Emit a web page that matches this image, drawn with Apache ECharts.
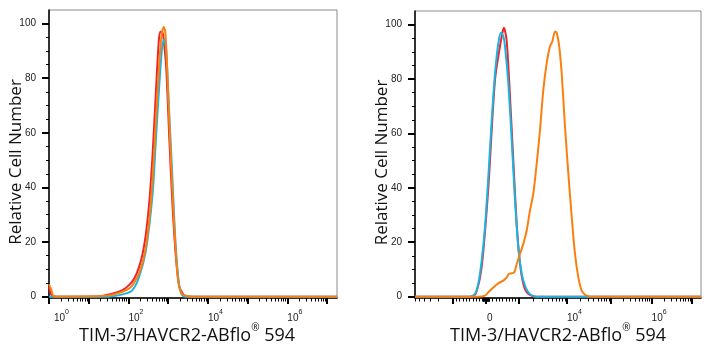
<!DOCTYPE html>
<html>
<head>
<meta charset="utf-8">
<script src="https://cdn.jsdelivr.net/npm/echarts@6/dist/echarts.min.js"></script>
<style>
html,body{margin:0;padding:0;background:#fff;}
#chart{width:710px;height:350px;}
</style>
</head>
<body>
<div id="chart"></div>
<script>
// ---------- DATA ----------
// Left panel: x in log10 units (decades), y = relative cell number
const leftRed = [[0,3.5],[0.08,0.3],[0.3,0],[1.2,0],[1.43,0.5],[1.85,2.4],[2.02,4.3],[2.15,6.7],[2.27,11],[2.36,16],[2.44,23],[2.53,35.5],[2.61,52.7],[2.69,74.7],[2.76,93],[2.80,97],[2.85,97],[2.88,95],[2.95,84],[3.03,57.5],[3.11,33],[3.20,13.5],[3.28,3.7],[3.37,1],[3.45,0],[7.25,0]];
const leftCyan = [[0,0],[1.5,0],[1.9,1],[2.10,2.4],[2.27,7.3],[2.44,17],[2.61,38],[2.69,57.5],[2.78,78.3],[2.85,91.8],[2.90,94.2],[2.95,90.6],[3.01,72],[3.10,45.3],[3.18,20.8],[3.27,4.9],[3.35,0.6],[3.45,0],[7.25,0]];
const leftOrange = [[0,4.5],[0.06,2.5],[0.13,0],[1.43,0.3],[2.02,3],[2.27,8.6],[2.44,18.4],[2.57,35.5],[2.65,54],[2.73,74.7],[2.80,90.6],[2.85,97.3],[2.89,98.8],[2.93,96.7],[2.99,78.3],[3.07,50],[3.16,24.5],[3.24,7.3],[3.33,1.2],[3.45,0.3],[3.62,0],[7.25,0]];

// Right panel: x in biexponential display units (0 = zero fluorescence), y = relative cell number
const rightRed = [[-1.775,0],[-0.4,0],[-0.26,1],[-0.108,11],[0.058,40],[0.225,79.7],[0.392,95.7],[0.45,98.8],[0.517,94],[0.6,73.5],[0.683,50],[0.767,26.8],[0.85,12],[0.933,4.6],[1.017,1.6],[1.143,0.3],[1.27,0],[5.375,0]];
const rightCyan = [[-1.775,0],[-0.4,0],[-0.275,1],[-0.193,4.7],[-0.108,13.3],[-0.025,25.6],[0.058,44],[0.143,65],[0.225,82],[0.308,93.2],[0.375,97],[0.433,95.7],[0.475,92],[0.558,78.5],[0.643,57.6],[0.725,35.4],[0.808,18.2],[0.893,8.4],[0.975,4],[1.058,1.6],[1.143,0.5],[1.27,0],[5.375,0]];
const rightOrange = [[-1.775,0],[-0.2,0],[-0.025,0.4],[0.058,1.6],[0.183,3.4],[0.308,4.9],[0.433,5.9],[0.518,7.1],[0.575,8.4],[0.643,8.6],[0.708,9],[0.768,12],[0.85,15.7],[0.933,19.4],[1.018,24.4],[1.1,31.7],[1.183,37.9],[1.268,49],[1.35,61.3],[1.433,76],[1.518,85.9],[1.6,92],[1.658,93.8],[1.725,97.5],[1.768,97],[1.825,92.6],[1.893,82],[1.975,62.5],[2.058,45.3],[2.143,29.3],[2.225,15.7],[2.308,7.1],[2.393,2.2],[2.475,0.7],[2.558,0.2],[2.643,0],[5.375,0]];

// Axis definitions
const yMajorTicks = [0, 20, 40, 60, 80, 100];
const yMinorTicks = [5, 10, 15, 25, 30, 35, 45, 50, 55, 65, 70, 75, 85, 90, 95];
const leftDecades = [0, 1, 2, 3, 4, 5, 6, 7];
const leftLabelDecades = [0, 2, 4, 6];
// biexponential axis: decade exponent -> display unit
const rightDecadeExp = [3, 4, 5, 6, 7];
const rightDecadePos = [0.825, 2.025, 3.125, 4.14, 5.15];
const rightMajorValues = [-1e3, 0, 1e3, 1e4, 1e5, 1e6, 1e7];
const rightLabelValues = [0, 1e4, 1e6];
const xTitle = 'TIM-3/HAVCR2-ABflo';
const yTitle = 'Relative Cell Number';

// ---------- SCALES ----------
const LEFT_MIN = 0, LEFT_MAX = 7.25;
const RIGHT_MIN = -1.775, RIGHT_MAX = 5.375;

function toDisplay(v) {
  const s = v < 0 ? -1 : 1;
  const a = Math.abs(v);
  if (a <= 1000) return s * rightDecadePos[0] * a / 1000;
  const e = Math.log10(a);
  let i = 0;
  while (i < rightDecadeExp.length - 2 && e > rightDecadeExp[i + 1]) i++;
  const e0 = rightDecadeExp[i], e1 = rightDecadeExp[i + 1];
  const p0 = rightDecadePos[i], p1 = rightDecadePos[i + 1];
  return s * (p0 + (e - e0) * (p1 - p0) / (e1 - e0));
}

const leftMinor = [];
for (let k = 0; k <= 7; k++) for (let m = 2; m <= 9; m++) {
  const t = k + Math.log10(m);
  if (t <= LEFT_MAX) leftMinor.push(t);
}
const rightMajor = rightMajorValues.map(toDisplay);
const rightMinor = [];
for (let k = 1; k <= 7; k++) for (let m = 1; m <= 9; m++) {
  const v = m * Math.pow(10, k);
  if (rightMajorValues.indexOf(v) >= 0) continue;
  [v, -v].forEach(function (w) {
    const t = toDisplay(w);
    if (t >= RIGHT_MIN && t <= RIGHT_MAX) rightMinor.push(t);
  });
}
const rightLabelPos = rightLabelValues.map(toDisplay);

// ---------- STYLE ----------
const RED = '#ec2528', CYAN = '#1ab4e4', ORANGE = '#f98010';
const labelFont = '"Liberation Sans", Arial, sans-serif';
const titleFont = '"Open Sans", "Noto Sans", sans-serif';

const xRich = {
  b: { fontSize: 10, lineHeight: 14, color: '#222', fontFamily: labelFont, verticalAlign: 'bottom' },
  p: { fontSize: 10, lineHeight: 14, color: '#222', fontFamily: labelFont, verticalAlign: 'bottom', padding: [0, 0, 0, 5] },
  s: { fontSize: 7, lineHeight: 8, color: '#222', fontFamily: labelFont, verticalAlign: 'top' },
  z: { fontSize: 10, lineHeight: 14, color: '#222', fontFamily: labelFont, verticalAlign: 'bottom', padding: [0, 0, 0, 1] }
};
const nameRich = {
  n: { fontSize: 18, lineHeight: 22, color: '#111', fontFamily: titleFont, verticalAlign: 'bottom' },
  r: { fontSize: 10, lineHeight: 12, color: '#111', fontFamily: titleFont, verticalAlign: 'top' }
};

function mainX(gridIndex, min, max, ticks, labels, fmt, namePad) {
  return {
    gridIndex: gridIndex, type: 'value', min: min, max: max, position: 'bottom',
    splitLine: { show: false },
    axisLine: { show: true, onZero: false, lineStyle: { color: '#000', width: 1.5 } },
    axisTick: { show: true, customValues: ticks, length: 6, lineStyle: { color: '#000', width: 2 } },
    axisLabel: { show: true, customValues: labels, formatter: fmt, margin: 11, align: 'left', rich: xRich, showMinLabel: true, showMaxLabel: true },
    name: '{n|' + xTitle + '}{r|®}{n| 594}',
    nameLocation: 'middle', nameGap: 25, nameMoveOverlap: false,
    nameTextStyle: { rich: nameRich, padding: namePad }
  };
}
function minorX(gridIndex, min, max, ticks) {
  return {
    gridIndex: gridIndex, type: 'value', min: min, max: max, position: 'bottom', offset: 0,
    splitLine: { show: false },
    axisLine: { show: false, onZero: false },
    axisTick: { show: true, customValues: ticks, length: 3.5, lineStyle: { color: '#000', width: 1 } },
    axisLabel: { show: false }
  };
}
function mainY(gridIndex) {
  return {
    gridIndex: gridIndex, type: 'value', min: -0.5, max: 105, position: 'left',
    splitLine: { show: false },
    axisLine: { show: true, onZero: false, lineStyle: { color: '#000', width: 1.5 } },
    axisTick: { show: true, customValues: yMajorTicks, length: 7, lineStyle: { color: '#000', width: 2 } },
    axisLabel: { show: true, customValues: yMajorTicks, margin: 13, fontSize: 10, color: '#222', fontFamily: labelFont },
    name: yTitle, nameLocation: 'middle', nameGap: 24, nameRotate: 90, nameMoveOverlap: false,
    nameTextStyle: { fontSize: 17, color: '#111', fontFamily: titleFont, padding: [0, 16, 0, 0] }
  };
}
function minorY(gridIndex) {
  return {
    gridIndex: gridIndex, type: 'value', min: -0.5, max: 105, position: 'left', offset: 0,
    splitLine: { show: false },
    axisLine: { show: false, onZero: false },
    axisTick: { show: true, customValues: yMinorTicks, length: 3, lineStyle: { color: '#000', width: 1 } },
    axisLabel: { show: false }
  };
}
function line(data, color, xi, yi, z) {
  return {
    type: 'line', data: data, xAxisIndex: xi, yAxisIndex: yi, z: z,
    showSymbol: false, smooth: 0.25, silent: true,
    lineStyle: { color: color, width: 2 }, itemStyle: { color: color }
  };
}

const leftFmt = function (v) {
  const k = Math.round(v);
  return (k === 0 ? '{p|10}' : '{b|10}') + '{s|' + k + '}';
};
const rightFmt = function (v) {
  let best = 0, d = Infinity;
  rightLabelPos.forEach(function (p, i) { if (Math.abs(p - v) < d) { d = Math.abs(p - v); best = i; } });
  const val = rightLabelValues[best];
  if (val === 0) return '{z|0}';
  return '{b|10}{s|' + Math.round(Math.log10(val)) + '}';
};

const chart = echarts.init(document.getElementById('chart'), null, { renderer: 'canvas' });
chart.setOption({
  animation: false,
  backgroundColor: '#fff',
  grid: [
    { left: 49, top: 10, width: 288, height: 288, show: true, borderColor: '#8a8a8a', borderWidth: 1, backgroundColor: 'transparent', outerBoundsMode: 'none', containLabel: false },
    { left: 415, top: 11, width: 286, height: 287, show: true, borderColor: '#8a8a8a', borderWidth: 1, backgroundColor: 'transparent', outerBoundsMode: 'none', containLabel: false }
  ],
  xAxis: [
    mainX(0, LEFT_MIN, LEFT_MAX, leftDecades, leftLabelDecades, leftFmt, [0, 12, 0, 0]),
    minorX(0, LEFT_MIN, LEFT_MAX, leftMinor),
    mainX(1, RIGHT_MIN, RIGHT_MAX, rightMajor, rightLabelPos, rightFmt, [0, 0, 0, 0]),
    minorX(1, RIGHT_MIN, RIGHT_MAX, rightMinor)
  ],
  yAxis: [mainY(0), minorY(0), mainY(1), minorY(1)],
  series: [
    line(leftRed, RED, 0, 0, 3),
    line(leftCyan, CYAN, 0, 0, 4),
    line(leftOrange, ORANGE, 0, 0, 5),
    line(rightRed, RED, 2, 2, 3),
    line(rightCyan, CYAN, 2, 2, 4),
    line(rightOrange, ORANGE, 2, 2, 5)
  ]
});
</script>
</body>
</html>
